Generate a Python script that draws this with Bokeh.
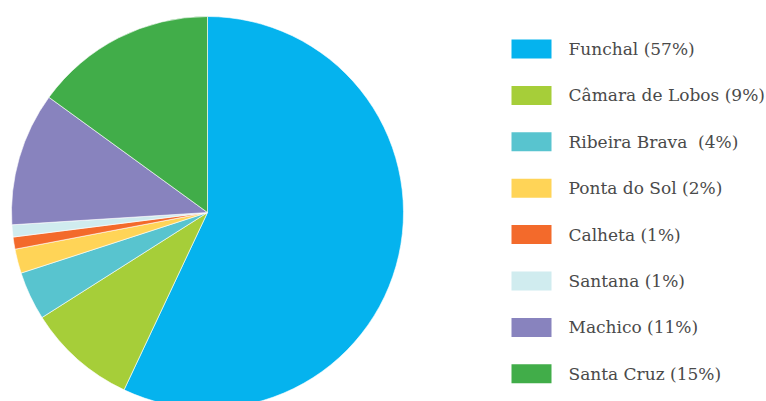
from math import pi
from bokeh.plotting import figure
from bokeh.models import ColumnDataSource, Range1d
from bokeh.core.properties import value
from bokeh.embed import file_html
from bokeh.resources import INLINE

names = ["Funchal", "Câmara de Lobos", "Ribeira Brava", "Ponta do Sol",
         "Calheta", "Santana", "Machico", "Santa Cruz"]
shares = [57, 9, 4, 2, 1, 1, 11, 15]
labels = ["Funchal (57%)", "Câmara de Lobos (9%)", "Ribeira Brava\u00a0 (4%)",
          "Ponta do Sol (2%)", "Calheta (1%)", "Santana (1%)",
          "Machico (11%)", "Santa Cruz (15%)"]
colors = ["#05B3EE", "#A6CE39", "#58C4CF", "#FFD457",
          "#F36A2B", "#D0ECEF", "#8883BE", "#41AD49"]

W, H = 766, 401
cx, cy, R = 207, H - 212, 196

total = sum(shares)
starts, ends = [], []
acc = 0
for s in shares:
    starts.append(pi / 2 - 2 * pi * acc / total)
    acc += s
    ends.append(pi / 2 - 2 * pi * acc / total)

src = ColumnDataSource(dict(name=names, start=starts, end=ends, color=colors))

p = figure(width=W, height=H, output_backend="svg", toolbar_location=None,
           x_range=Range1d(0, W), y_range=Range1d(0, H), min_border=0)
p.axis.visible = False
p.grid.visible = False
p.outline_line_color = None
p.background_fill_color = "white"
p.border_fill_color = "white"

p.wedge(x=cx, y=cy, radius=R, start_angle="start", end_angle="end",
        direction="clock", fill_color="color", line_color="white",
        line_width=0.6, source=src)

n = len(names)
ly = [H - (48.5 + i * 46.4) for i in range(n)]
leg = ColumnDataSource(dict(y=ly, color=colors, label=labels,
                            x=[531] * n, tx=[568] * n))
p.rect(x="x", y="y", width=40, height=19, fill_color="color",
       line_color=None, source=leg)
p.text(x="tx", y="y", text="label",
       text_font=value("DejaVu Serif"),
       text_font_size="17px", text_color="#4a4a4a", text_baseline="middle",
       text_align="left", source=leg)

open("out.html", "w").write(file_html(p, INLINE))
